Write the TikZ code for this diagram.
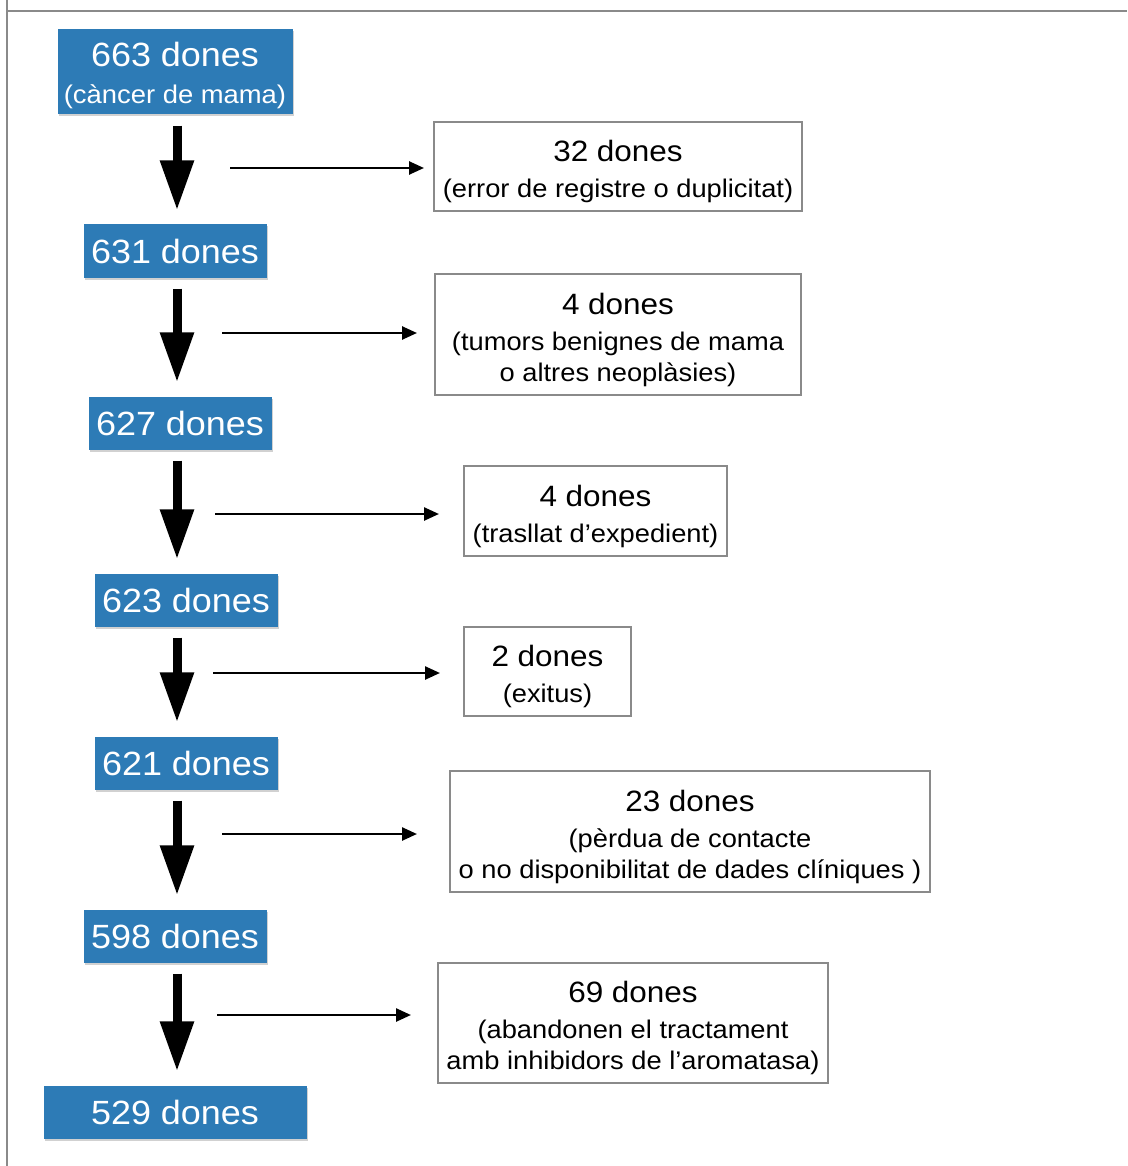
\documentclass[tikz,border=0pt]{standalone}
\usepackage{fontspec}
\setmainfont{Liberation Sans}[FakeStretch=1.07]
\usepackage{tikz}
\usetikzlibrary{arrows.meta,shadows}
\definecolor{Blue}{HTML}{2D7BB6}
\definecolor{Frame}{HTML}{8A8A8A}
\newcommand{\headsize}{\fontsize{29.4}{31}\selectfont\rule{0pt}{32pt}}
\newcommand{\subsize}{\fontsize{25.6}{37}\selectfont}

\begin{document}
\begin{tikzpicture}[x=1pt,y=-1pt,
  keptbox/.style={fill=Blue,text=white,inner sep=0pt,minimum width=183pt,minimum height=53pt,
    align=center,font=\fontsize{33.6}{37}\selectfont,
    drop shadow={shadow xshift=1pt,shadow yshift=-2pt,opacity=0.18,fill=black}},
  lostbox/.style={draw=Frame,line width=2pt,fill=white,inner sep=0pt,align=center,
    font=\fontsize{25.5}{31}\selectfont},
  downarrow/.style={line width=9pt,-{Triangle[width=32pt,length=50pt]},
    shorten <=11pt,shorten >=14pt},
  sidearrow/.style={line width=2.5pt,-{Triangle[width=13pt,length=15pt]}}]
  \useasboundingbox (0,0) rectangle (1127,1166);
  \fill[white] (0,0) rectangle (1127,1166);
  % frame
  \draw[Frame,line width=2pt] (7,0) -- (7,1166);
  \draw[Frame,line width=2pt] (7,11) -- (1127,11);

  % remaining women
  \node[keptbox,minimum width=235pt,minimum height=85pt] (b1) at (175,72) {\rule{0pt}{31pt}663 dones\\{\subsize (càncer de mama)}};
  \node[keptbox] (b2) at (175,251) {631 dones};
  \node[keptbox] (b3) at (180,423) {627 dones};
  \node[keptbox] (b4) at (186,600) {623 dones};
  \node[keptbox] (b5) at (186,763) {621 dones};
  \node[keptbox] (b6) at (175,936) {598 dones};
  \node[keptbox,minimum width=263pt] (b7) at (175,1112) {529 dones};

  % excluded women
  \node[lostbox,minimum width=368pt,minimum height=89pt] (r1) at (618,166.5)
    {{\headsize 32 dones}\\[5pt](error de registre o duplicitat)};
  \node[lostbox,minimum width=366pt,minimum height=121pt] (r2) at (618,334.5)
    {{\headsize 4 dones}\\[5pt](tumors benignes de mama\\o altres neoplàsies)};
  \node[lostbox,minimum width=263pt,minimum height=90pt] (r3) at (595.5,511)
    {{\headsize 4 dones}\\[5pt](trasllat d’expedient)};
  \node[lostbox,minimum width=167pt,minimum height=89pt] (r4) at (547.5,671.5)
    {{\headsize 2 dones}\\[5pt](exitus)};
  \node[lostbox,minimum width=480pt,minimum height=121pt] (r5) at (690,831.5)
    {{\headsize 23 dones}\\[5pt](pèrdua de contacte\\o no disponibilitat de dades clíniques )};
  \node[lostbox,minimum width=390pt,minimum height=120pt] (r6) at (633,1023)
    {{\headsize 69 dones}\\[5pt](abandonen el tractament\\amb inhibidors de l’aromatasa)};

  % arrows
  \coordinate (ax) at (177,0);
  \draw[downarrow] (b1.south -| ax) -- (b2.north -| ax);
  \draw[downarrow] (b2.south -| ax) -- (b3.north -| ax);
  \draw[downarrow] (b3.south -| ax) -- (b4.north -| ax);
  \draw[downarrow] (b4.south -| ax) -- (b5.north -| ax);
  \draw[downarrow] (b5.south -| ax) -- (b6.north -| ax);
  \draw[downarrow] (b6.south -| ax) -- (b7.north -| ax);

  \coordinate (s1) at (230,168);
  \coordinate (s2) at (222,333);
  \coordinate (s3) at (215,514);
  \coordinate (s4) at (213,673);
  \coordinate (s5) at (222,834);
  \coordinate (s6) at (217,1015);
  \draw[sidearrow,shorten >=9pt] (s1) -- (s1 -| r1.west);
  \draw[sidearrow,shorten >=17pt] (s2) -- (s2 -| r2.west);
  \draw[sidearrow,shorten >=24pt] (s3) -- (s3 -| r3.west);
  \draw[sidearrow,shorten >=23pt] (s4) -- (s4 -| r4.west);
  \draw[sidearrow,shorten >=32pt] (s5) -- (s5 -| r5.west);
  \draw[sidearrow,shorten >=26pt] (s6) -- (s6 -| r6.west);
\end{tikzpicture}
\end{document}
